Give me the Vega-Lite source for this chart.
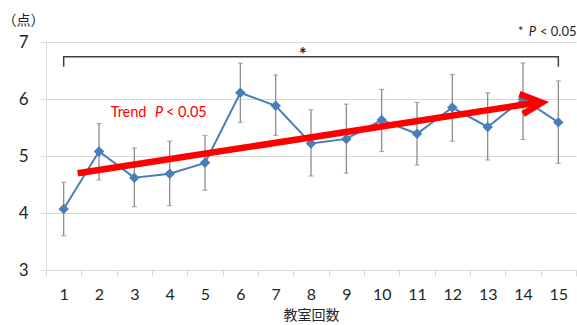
{
  "$schema": "https://vega.github.io/schema/vega-lite/v6.json",
  "width": 530,
  "height": 228,
  "autosize": {"type": "none"},
  "padding": {"left": 46, "top": 42, "right": 1, "bottom": 55},
  "background": "white",
  "config": {
    "font": "Lato",
    "view": {"stroke": null},
    "axisY": {
      "domainColor": "#d9d9d9",
      "tickColor": "#d9d9d9",
      "gridColor": "#d9d9d9",
      "tickSize": 6,
      "labelFont": "Lato",
      "labelFontSize": 17,
      "labelPadding": 12,
      "labelColor": "#262626",
      "titleAngle": 0,
      "titleX": -23,
      "titleY": -22,
      "titleAlign": "center",
      "titleBaseline": "middle",
      "titleFont": "Noto Sans CJK JP",
      "titleFontSize": 14,
      "titleFontWeight": "normal",
      "titleColor": "#262626"
    },
    "axisX": {
      "domainColor": "#d9d9d9",
      "tickColor": "#d9d9d9",
      "tickSize": 6,
      "labelFont": "Lato",
      "labelFontSize": 16,
      "labelPadding": 10,
      "labelColor": "#262626",
      "labelAngle": 0,
      "titleFont": "Noto Sans CJK JP",
      "titleFontSize": 14,
      "titleFontWeight": "normal",
      "titleColor": "#262626",
      "titlePadding": 6,
      "grid": false
    }
  },
  "datasets": {
    "scores": [
      {"n": 1, "mean": 4.07, "lo": 3.60, "hi": 4.54},
      {"n": 2, "mean": 5.08, "lo": 4.58, "hi": 5.57},
      {"n": 3, "mean": 4.62, "lo": 4.11, "hi": 5.14},
      {"n": 4, "mean": 4.69, "lo": 4.13, "hi": 5.26},
      {"n": 5, "mean": 4.88, "lo": 4.40, "hi": 5.36},
      {"n": 6, "mean": 6.11, "lo": 5.59, "hi": 6.63},
      {"n": 7, "mean": 5.88, "lo": 5.36, "hi": 6.42},
      {"n": 8, "mean": 5.22, "lo": 4.65, "hi": 5.81},
      {"n": 9, "mean": 5.30, "lo": 4.70, "hi": 5.91},
      {"n": 10, "mean": 5.63, "lo": 5.08, "hi": 6.17},
      {"n": 11, "mean": 5.39, "lo": 4.84, "hi": 5.94},
      {"n": 12, "mean": 5.85, "lo": 5.26, "hi": 6.43},
      {"n": 13, "mean": 5.51, "lo": 4.93, "hi": 6.11},
      {"n": 14, "mean": 6.00, "lo": 5.29, "hi": 6.63},
      {"n": 15, "mean": 5.59, "lo": 4.87, "hi": 6.32}
    ],
    "arrow": [
      {"seg": "shaft", "ord": 1, "x": 1.397, "y": 4.697},
      {"seg": "shaft", "ord": 2, "x": 14.47, "y": 5.944},
      {"seg": "head", "ord": 1, "x": 13.90, "y": 6.088},
      {"seg": "head", "ord": 2, "x": 14.53, "y": 5.935},
      {"seg": "head", "ord": 3, "x": 14.00, "y": 5.737}
    ],
    "bracket": [
      {"ord": 1, "x": 1, "y": 6.567},
      {"ord": 2, "x": 1, "y": 6.742},
      {"ord": 3, "x": 15, "y": 6.742},
      {"ord": 4, "x": 15, "y": 6.567}
    ]
  },
  "layer": [
    {
      "data": {"name": "scores"},
      "encoding": {
        "x": {
          "field": "n",
          "type": "ordinal",
          "scale": {"paddingInner": 0, "paddingOuter": 0},
          "axis": {"title": "教室回数", "tickBand": "extent"}
        }
      },
      "layer": [
        {
          "mark": {"type": "rule", "color": "#8c8c8c", "strokeWidth": 1.3},
          "encoding": {
            "y": {"field": "lo", "type": "quantitative", "title": "（点）", "scale": {"domain": [3, 7]}, "axis": {"values": [3, 4, 5, 6, 7], "format": "d"}},
            "y2": {"field": "hi"}
          }
        },
        {
          "mark": {"type": "tick", "color": "#8c8c8c", "size": 5, "thickness": 1.2},
          "encoding": {"y": {"field": "lo", "type": "quantitative", "title": "（点）"}}
        },
        {
          "mark": {"type": "tick", "color": "#8c8c8c", "size": 5, "thickness": 1.2},
          "encoding": {"y": {"field": "hi", "type": "quantitative", "title": "（点）"}}
        },
        {
          "mark": {"type": "line", "color": "#4a7ebb", "strokeWidth": 2},
          "encoding": {"y": {"field": "mean", "type": "quantitative", "title": "（点）"}}
        },
        {
          "mark": {"type": "point", "shape": "diamond", "filled": true, "color": "#4a7ebb", "opacity": 1, "size": 110},
          "encoding": {"y": {"field": "mean", "type": "quantitative", "title": "（点）"}}
        }
      ]
    },
    {
      "layer": [
        {
          "data": {"name": "arrow"},
          "mark": {"type": "line", "color": "#ff0000", "strokeWidth": 6.5, "strokeJoin": "miter", "strokeCap": "butt"},
          "encoding": {
            "x": {"field": "x", "type": "quantitative", "scale": {"domain": [0.5, 15.5], "nice": false, "zero": false}, "axis": null},
            "y": {"field": "y", "type": "quantitative", "title": "（点）"},
            "detail": {"field": "seg"},
            "order": {"field": "ord"}
          }
        },
        {
          "data": {"name": "bracket"},
          "mark": {"type": "line", "color": "#404040", "strokeWidth": 1.5, "strokeJoin": "miter"},
          "encoding": {
            "x": {"field": "x", "type": "quantitative", "scale": {"domain": [0.5, 15.5], "nice": false, "zero": false}, "axis": null},
            "y": {"field": "y", "type": "quantitative", "title": "（点）"},
            "order": {"field": "ord"}
          }
        },
        {
          "data": {"values": [{"x": 2.33, "y": 5.76, "label": "Trend"}, {"x": 3.896, "y": 5.76, "label": "< 0.05"}]},
          "mark": {"type": "text", "color": "#ff0000", "fontSize": 14.5, "align": "left", "baseline": "middle"},
          "encoding": {
            "x": {"field": "x", "type": "quantitative", "scale": {"domain": [0.5, 15.5], "nice": false, "zero": false}, "axis": null},
            "y": {"field": "y", "type": "quantitative", "title": "（点）"},
            "text": {"field": "label"}
          }
        },
        {
          "data": {"values": [{"x": 3.585, "y": 5.76, "label": "P"}]},
          "mark": {"type": "text", "color": "#ff0000", "fontSize": 14.5, "fontStyle": "italic", "align": "left", "baseline": "middle"},
          "encoding": {
            "x": {"field": "x", "type": "quantitative", "scale": {"domain": [0.5, 15.5], "nice": false, "zero": false}, "axis": null},
            "y": {"field": "y", "type": "quantitative", "title": "（点）"},
            "text": {"field": "label"}
          }
        },
        {
          "data": {"values": [{"x": 13.86, "y": 7.175, "label": "*"}, {"x": 14.48, "y": 7.175, "label": "< 0.05"}]},
          "mark": {"type": "text", "color": "#262626", "fontSize": 13, "align": "left", "baseline": "middle"},
          "encoding": {
            "x": {"field": "x", "type": "quantitative", "scale": {"domain": [0.5, 15.5], "nice": false, "zero": false}, "axis": null},
            "y": {"field": "y", "type": "quantitative", "title": "（点）"},
            "text": {"field": "label"}
          }
        },
        {
          "data": {"values": [{"x": 14.37, "y": 7.175, "label": "P"}]},
          "mark": {"type": "text", "color": "#262626", "fontSize": 13, "fontStyle": "italic", "align": "right", "baseline": "middle"},
          "encoding": {
            "x": {"field": "x", "type": "quantitative", "scale": {"domain": [0.5, 15.5], "nice": false, "zero": false}, "axis": null},
            "y": {"field": "y", "type": "quantitative", "title": "（点）"},
            "text": {"field": "label"}
          }
        },
        {
          "data": {"values": [{"x": 7.77, "y": 6.667, "label": "*"}]},
          "mark": {"type": "text", "color": "#262626", "fontSize": 18, "fontWeight": "bold", "align": "center", "baseline": "alphabetic"},
          "encoding": {
            "x": {"field": "x", "type": "quantitative", "scale": {"domain": [0.5, 15.5], "nice": false, "zero": false}, "axis": null},
            "y": {"field": "y", "type": "quantitative", "title": "（点）"},
            "text": {"field": "label"}
          }
        }
      ]
    }
  ],
  "resolve": {"scale": {"x": "independent"}}
}
